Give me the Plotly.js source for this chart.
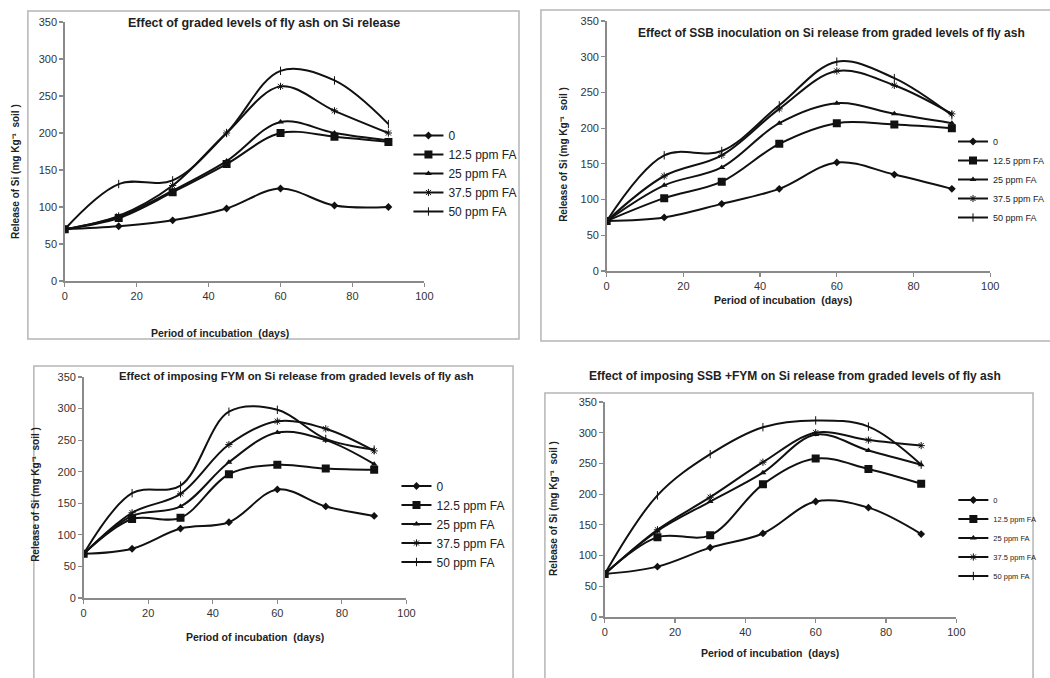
<!DOCTYPE html>
<html>
<head>
<meta charset="utf-8">
<script src="https://cdn.plot.ly/plotly-3.0.1.min.js"></script>
<style>html,body{margin:0;padding:0;background:#fff;}#chart{width:1050px;height:678px;}</style>
</head>
<body>
<div id="chart"></div>
<script>
// ---- data ----
const days = [0, 15, 30, 45, 60, 75, 90];
const seriesNames = ['0', '12.5 ppm FA', '25 ppm FA', '37.5 ppm FA', '50 ppm FA'];

// Panel 1: graded levels of fly ash
const fa_0    = [70, 74, 82, 98, 125, 102, 100];
const fa_12_5 = [70, 85, 120, 158, 200, 195, 188];
const fa_25   = [70, 87, 122, 162, 215, 200, 190];
const fa_37_5 = [70, 88, 129, 200, 263, 230, 200];
const fa_50   = [70, 131, 136, 200, 284, 271, 212];

// Panel 2: SSB inoculation
const ssb_0    = [70, 75, 94, 115, 152, 135, 115];
const ssb_12_5 = [70, 102, 125, 178, 207, 205, 200];
const ssb_25   = [70, 120, 145, 207, 235, 220, 207];
const ssb_37_5 = [70, 133, 162, 227, 280, 260, 220];
const ssb_50   = [70, 162, 168, 232, 293, 270, 218];

// Panel 3: FYM
const fym_0    = [70, 78, 110, 120, 172, 145, 130];
const fym_12_5 = [70, 125, 127, 196, 211, 205, 203];
const fym_25   = [70, 130, 145, 215, 262, 250, 212];
const fym_37_5 = [70, 135, 165, 243, 280, 268, 233];
const fym_50   = [70, 166, 178, 295, 298, 252, 235];

// Panel 4: SSB + FYM
const sf_0    = [70, 82, 113, 136, 188, 178, 135];
const sf_12_5 = [70, 130, 133, 216, 258, 241, 217];
const sf_25   = [70, 140, 188, 235, 297, 271, 248];
const sf_37_5 = [70, 142, 195, 252, 300, 288, 279];
const sf_50   = [70, 198, 265, 309, 320, 310, 248];

const titles = [
  'Effect of graded levels of fly ash on Si release',
  'Effect of SSB inoculation on Si release from graded levels of fly ash',
  'Effect of imposing FYM on Si release from graded levels of fly ash',
  'Effect of imposing SSB +FYM on Si release from graded levels of fly ash'
];
const xTitle = 'Period of incubation  (days)';
const yTitle = 'Release of Si (mg Kg\u207B\u00B9  soil )';

const panels = [
  [fa_0, fa_12_5, fa_25, fa_37_5, fa_50],
  [ssb_0, ssb_12_5, ssb_25, ssb_37_5, ssb_50],
  [fym_0, fym_12_5, fym_25, fym_37_5, fym_50],
  [sf_0, sf_12_5, sf_25, sf_37_5, sf_50]
];

// ---- layout helpers (pixel -> paper) ----
const W = 1050, H = 678;
const PX = p => p / W;
const PY = p => 1 - p / H;

// plot areas in pixels [x0, x1, yTop, yBottom]
const areas = [
  [65, 426, 22, 281],
  [609, 994, 21, 271],
  [84, 408, 377, 598],
  [607, 960, 402, 617]
];
// frames [x0, x1, y0, y1]
const frames = [
  [28, 521, 11, 339],
  [543, 1070, 10, 341],
  [34, 515, 366, 700],
  [547, 1037, 393, 700]
];
const titlePos = [[265, 23, 12.5], [835, 33, 12], [298, 376, 11.3], [798, 376, 12]];
const xTitlePos = [[221, 333], [786, 300], [256, 637], [773, 653]];
const yTitlePos = [[15, 171], [565, 154], [36, 494], [555, 508]];
const legendPos = [[410, 173.5, 12], [957, 179.5, 9], [398, 524, 12], [957, 538, 7.5]];

const symbols = ['diamond', 'square', 'triangle-up', 'asterisk', 'line-ns'];
const sizes = [6, 8, 6, 6, 6];
const ink = '#111';

const traces = [];
const layout = {
  width: W, height: H,
  margin: {l: 0, r: 0, t: 0, b: 0},
  paper_bgcolor: '#fff', plot_bgcolor: 'rgba(0,0,0,0)',
  font: {family: 'Liberation Sans, Arial, sans-serif', color: '#222'},
  shapes: [], annotations: []
};

panels.forEach((series, pi) => {
  const sfx = pi === 0 ? '' : String(pi + 1);
  const legName = 'legend' + sfx;
  series.forEach((vals, si) => {
    traces.push({
      type: 'scatter', mode: 'lines+markers',
      x: days, y: vals, name: seriesNames[si],
      xaxis: 'x' + sfx, yaxis: 'y' + sfx, legend: legName,
      line: {color: ink, width: 2, shape: 'spline', smoothing: 1},
      marker: {symbol: symbols[si], size: sizes[si], color: ink,
               line: {color: ink, width: (si >= 3 ? 1 : 0)}},
      hoverinfo: 'x+y+name'
    });
  });
  const a = areas[pi];
  const axCommon = {
    showline: true, linecolor: '#8a8a8a', linewidth: 1.5,
    ticks: 'outside', ticklen: 4, tickcolor: '#8a8a8a', tickwidth: 1.2,
    showgrid: false, zeroline: false, fixedrange: true,
    tickfont: {size: 11, color: '#333'}
  };
  layout['xaxis' + sfx] = Object.assign({}, axCommon, {
    domain: [PX(a[0]), PX(a[1])], range: [0, 100], tick0: 0, dtick: 20,
    anchor: 'y' + sfx
  });
  layout['yaxis' + sfx] = Object.assign({}, axCommon, {
    domain: [PY(a[3]), PY(a[2])], range: [0, 350], tick0: 0, dtick: 50,
    anchor: 'x' + sfx
  });
  const lp = legendPos[pi];
  layout[legName] = {
    x: PX(lp[0]), y: PY(lp[1]), xanchor: 'left', yanchor: 'middle',
    bgcolor: 'rgba(0,0,0,0)', borderwidth: 0,
    font: {size: lp[2], color: '#222'}, itemwidth: 30
  };
  const f = frames[pi];
  layout.shapes.push({
    type: 'rect', xref: 'paper', yref: 'paper',
    x0: PX(f[0]), x1: PX(f[1]), y0: PY(f[3]), y1: PY(f[2]),
    line: {color: '#b5b5b5', width: 1.5}, fillcolor: 'rgba(0,0,0,0)', layer: 'below'
  });
  const t = titlePos[pi];
  layout.annotations.push({
    xref: 'paper', yref: 'paper', x: PX(t[0]), y: PY(t[1]),
    xanchor: 'center', yanchor: 'middle', showarrow: false,
    text: '<b>' + titles[pi] + '</b>', font: {size: t[2], color: '#222'}
  });
  const xt = xTitlePos[pi];
  layout.annotations.push({
    xref: 'paper', yref: 'paper', x: PX(xt[0]), y: PY(xt[1]),
    xanchor: 'center', yanchor: 'middle', showarrow: false,
    text: '<b>' + xTitle + '</b>', font: {size: 10.5, color: '#222'}
  });
  const yt = yTitlePos[pi];
  layout.annotations.push({
    xref: 'paper', yref: 'paper', x: PX(yt[0]), y: PY(yt[1]),
    xanchor: 'center', yanchor: 'middle', showarrow: false, textangle: -90,
    text: '<b>' + yTitle + '</b>', font: {size: 10, color: '#222'}
  });
});

Plotly.newPlot('chart', traces, layout, {displayModeBar: false, staticPlot: true});
</script>
</body>
</html>
